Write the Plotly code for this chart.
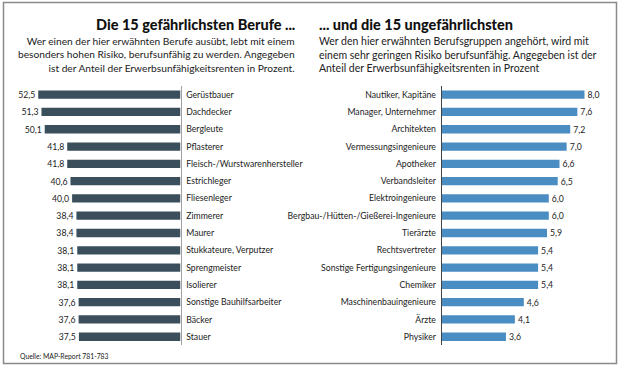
import plotly.graph_objects as go

W, H = 621, 368

left_cats = ["Gerüstbauer", "Dachdecker", "Bergleute", "Pflasterer",
             "Fleisch-/Wurstwarenhersteller", "Estrichleger", "Fliesenleger",
             "Zimmerer", "Maurer", "Stukkateure, Verputzer", "Sprengmeister",
             "Isolierer", "Sonstige Bauhilfsarbeiter", "Bäcker", "Stauer"]
left_vals = [52.5, 51.3, 50.1, 41.8, 41.8, 40.6, 40.0, 38.4, 38.4, 38.1, 38.1,
             38.1, 37.6, 37.6, 37.5]

right_cats = ["Nautiker, Kapitäne", "Manager, Unternehmer", "Architekten",
              "Vermessungsingenieure", "Apotheker", "Verbandsleiter",
              "Elektroingenieure", "Bergbau-/Hütten-/Gießerei-Ingenieure",
              "Tierärzte", "Rechtsvertreter", "Sonstige Fertigungsingenieure",
              "Chemiker", "Maschinenbauingenieure", "Ärzte", "Physiker"]
right_vals = [8.0, 7.6, 7.2, 7.0, 6.6, 6.5, 6.0, 6.0, 5.9, 5.4, 5.4, 5.4,
              4.6, 4.1, 3.6]

def fmt(v):
    return f"{v:.1f}".replace(".", ",")

FONT = "Lato"
TXT = "#222222"
LEFT_COL = "#3b4e5c"
RIGHT_COL = "#4a8dc3"

fig = go.Figure()
fig.add_trace(go.Bar(
    x=left_vals, y=left_cats, orientation="h", xaxis="x", yaxis="y",
    marker=dict(color=LEFT_COL, line=dict(width=0)), width=0.48,
    text=[fmt(v) for v in left_vals], textposition="outside",
    constraintext="none",
    textfont=dict(family=FONT, size=8.7, color=TXT), cliponaxis=False,
    hoverinfo="skip"))
fig.add_trace(go.Bar(
    x=right_vals, y=right_cats, orientation="h", xaxis="x2", yaxis="y2",
    marker=dict(color=RIGHT_COL, line=dict(width=0)), width=0.48,
    text=[fmt(v) for v in right_vals], textposition="outside",
    constraintext="none",
    textfont=dict(family=FONT, size=8.7, color=TXT), cliponaxis=False,
    hoverinfo="skip"))

# pixel geometry
left_zero = 180.5
left_scale = 2.71
right_zero = 441.7
right_scale = 17.85
row_top = 86.0
row_bot = 345.4

ydom = [(H - row_bot) / H, (H - row_top) / H]

fig.update_layout(
    width=W, height=H, margin=dict(l=0, r=0, t=0, b=0),
    paper_bgcolor="white", plot_bgcolor="rgba(0,0,0,0)", showlegend=False,
    font=dict(family=FONT, color=TXT),
    xaxis=dict(domain=[0, left_zero / W], range=[left_zero / left_scale, 0],
               visible=False, fixedrange=True),
    yaxis=dict(domain=ydom, anchor="x", side="right", autorange="reversed",
               showline=True, linecolor="#a0a0a0", linewidth=1,
               showgrid=False, ticks="", ticklabelstandoff=3,
               tickfont=dict(family=FONT, size=8.7, color=TXT)),
    xaxis2=dict(domain=[right_zero / W, 1],
                range=[0, (W - right_zero) / right_scale],
                visible=False, fixedrange=True),
    yaxis2=dict(domain=ydom, anchor="x2", side="left", autorange="reversed",
                showline=True, linecolor="#444444", linewidth=1,
                showgrid=False, ticks="", ticklabelstandoff=3,
                tickfont=dict(family=FONT, size=8.7, color=TXT)),
)

fig.add_shape(type="rect", xref="paper", yref="paper",
              x0=3.5 / W, x1=616.5 / W, y0=(H - 363.5) / H, y1=(H - 2.5) / H,
              line=dict(color="#8a8a8a", width=1.5), fillcolor="rgba(0,0,0,0)",
              layer="above")

fig.add_annotation(text="Die 15 gefährlichsten Berufe ...",
                   xref="paper", yref="paper", x=296 / W, y=(H - 33.5) / H,
                   xanchor="right", yanchor="bottom", showarrow=False,
                   borderpad=0,
                   font=dict(family=FONT, size=14.5, color="#111111", weight=900))
fig.add_annotation(text="Wer einen der hier erwähnten Berufe ausübt, lebt mit einem<br>"
                        "besonders hohen Risiko, berufsunfähig zu werden. Angegeben<br>"
                        "ist der Anteil der Erwerbsunfähigkeitsrenten in Prozent.",
                   xref="paper", yref="paper", x=296 / W, y=(H - 34) / H,
                   xanchor="right", yanchor="top", align="right", showarrow=False,
                   borderpad=0,
                   font=dict(family=FONT, size=10.2, color=TXT))
fig.add_annotation(text="... und die 15 ungefährlichsten",
                   xref="paper", yref="paper", x=318 / W, y=(H - 33.5) / H,
                   xanchor="left", yanchor="bottom", showarrow=False,
                   borderpad=0,
                   font=dict(family=FONT, size=14.5, color="#111111", weight=900))
fig.add_annotation(text="Wer den hier erwähnten Berufsgruppen angehört, wird mit<br>"
                        "einem sehr geringen Risiko berufsunfähig. Angegeben ist der<br>"
                        "Anteil der Erwerbsunfähigkeitsrenten in Prozent",
                   xref="paper", yref="paper", x=318 / W, y=(H - 34) / H,
                   xanchor="left", yanchor="top", align="left", showarrow=False,
                   borderpad=0,
                   font=dict(family=FONT, size=10.5, color=TXT))
fig.add_annotation(text="Quelle: MAP-Report 781-783",
                   xref="paper", yref="paper", x=18 / W, y=(H - 356) / H,
                   xanchor="left", yanchor="middle", showarrow=False,
                   font=dict(family=FONT, size=6.8, color=TXT))

fig.write_html("out.html", config={"displayModeBar": False},
               post_script="document.body.style.margin='0';")
